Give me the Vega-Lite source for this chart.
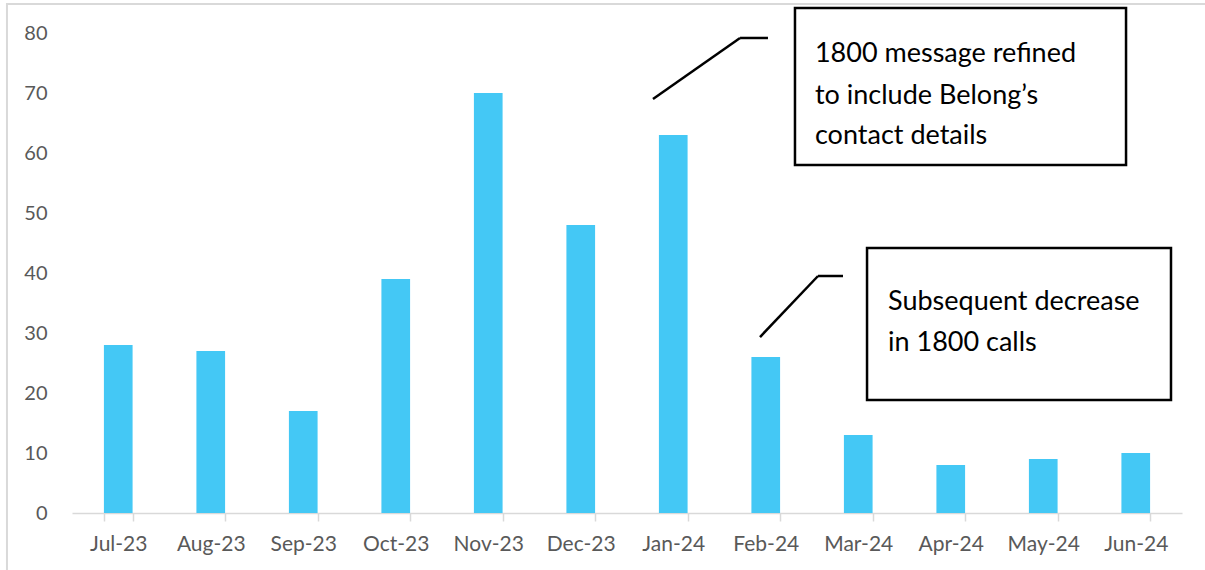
{
  "$schema": "https://vega.github.io/schema/vega-lite/v6.json",
  "width": 1110,
  "height": 480,
  "autosize": {"type": "none"},
  "padding": {"left": 72, "top": 33, "right": 23, "bottom": 57},
  "background": "white",
  "config": {"view": {"stroke": null}, "font": "Lato"},
  "datasets": {
    "calls": [
      {"month": "Jul-23", "calls": 28},
      {"month": "Aug-23", "calls": 27},
      {"month": "Sep-23", "calls": 17},
      {"month": "Oct-23", "calls": 39},
      {"month": "Nov-23", "calls": 70},
      {"month": "Dec-23", "calls": 48},
      {"month": "Jan-24", "calls": 63},
      {"month": "Feb-24", "calls": 26},
      {"month": "Mar-24", "calls": 13},
      {"month": "Apr-24", "calls": 8},
      {"month": "May-24", "calls": 9},
      {"month": "Jun-24", "calls": 10}
    ],
    "frame": [{"x": -0.703, "x2": 12.4, "y": 84.83, "y2": -12}],
    "boxes": [
      {"x": 7.816, "x2": 11.395, "y": 84.17, "y2": 58.0},
      {"x": 8.595, "x2": 11.881, "y": 44.17, "y2": 18.83}
    ],
    "segments": [
      {"x": 6.281, "y": 69.0, "x2": 7.222, "y2": 79.17},
      {"x": 7.222, "y": 79.17, "x2": 7.524, "y2": 79.17},
      {"x": 7.438, "y": 29.33, "x2": 8.065, "y2": 39.5},
      {"x": 8.065, "y": 39.5, "x2": 8.335, "y2": 39.5}
    ],
    "notes": [
      {"x": 8.032, "y": 76.5, "text": "1800 message refined"},
      {"x": 8.032, "y": 69.5, "text": "to include Belong’s"},
      {"x": 8.032, "y": 62.8, "text": "contact details"},
      {"x": 8.822, "y": 35.2, "text": "Subsequent decrease"},
      {"x": 8.822, "y": 28.4, "text": "in 1800 calls"}
    ]
  },
  "layer": [
    {
      "data": {"name": "calls"},
      "mark": {"type": "bar", "color": "#44C8F5"},
      "encoding": {
        "x": {
          "field": "month", "type": "ordinal", "sort": null,
          "scale": {"paddingInner": 0.69, "paddingOuter": 0.345},
          "axis": {
            "title": null, "labelAngle": 0, "tickBand": "extent", "tickSize": 8,
            "tickColor": "#D9D9D9", "domainColor": "#D9D9D9", "tickWidth": 1.5, "domainWidth": 1.5,
            "labelColor": "#595959", "labelFontSize": 21, "labelPadding": 12, "labelFont": "Lato"
          }
        },
        "y": {
          "field": "calls", "type": "quantitative",
          "scale": {"domain": [0, 80], "nice": false},
          "axis": {
            "title": null, "values": [0, 10, 20, 30, 40, 50, 60, 70, 80], "grid": false, "ticks": false, "domain": false,
            "labelColor": "#595959", "labelFontSize": 20, "labelPadding": 25, "labelFont": "Lato"
          }
        }
      }
    },
    {
      "layer": [
        {
          "data": {"name": "frame"},
          "mark": {"type": "rect", "fill": null, "stroke": "#D9D9D9", "strokeWidth": 2, "clip": false},
          "encoding": {
            "x": {"field": "x", "type": "quantitative", "scale": {"domain": [0, 12], "nice": false, "zero": false}, "axis": null},
            "x2": {"field": "x2"},
            "y": {"field": "y", "type": "quantitative"},
            "y2": {"field": "y2"}
          }
        },
        {
          "data": {"name": "boxes"},
          "mark": {"type": "rect", "fill": "white", "stroke": "black", "strokeWidth": 2.5, "clip": false},
          "encoding": {
            "x": {"field": "x", "type": "quantitative", "scale": {"domain": [0, 12], "nice": false, "zero": false}, "axis": null},
            "x2": {"field": "x2"},
            "y": {"field": "y", "type": "quantitative"},
            "y2": {"field": "y2"}
          }
        },
        {
          "data": {"name": "segments"},
          "mark": {"type": "rule", "color": "black", "strokeWidth": 2.5, "clip": false},
          "encoding": {
            "x": {"field": "x", "type": "quantitative", "scale": {"domain": [0, 12], "nice": false, "zero": false}, "axis": null},
            "x2": {"field": "x2"},
            "y": {"field": "y", "type": "quantitative"},
            "y2": {"field": "y2"}
          }
        },
        {
          "data": {"name": "notes"},
          "mark": {"type": "text", "align": "left", "baseline": "middle", "fontSize": 27, "color": "black", "font": "Lato", "clip": false},
          "encoding": {
            "x": {"field": "x", "type": "quantitative", "scale": {"domain": [0, 12], "nice": false, "zero": false}, "axis": null},
            "y": {"field": "y", "type": "quantitative"},
            "text": {"field": "text"}
          }
        }
      ]
    }
  ],
  "resolve": {"scale": {"x": "independent"}, "axis": {"x": "independent"}}
}
